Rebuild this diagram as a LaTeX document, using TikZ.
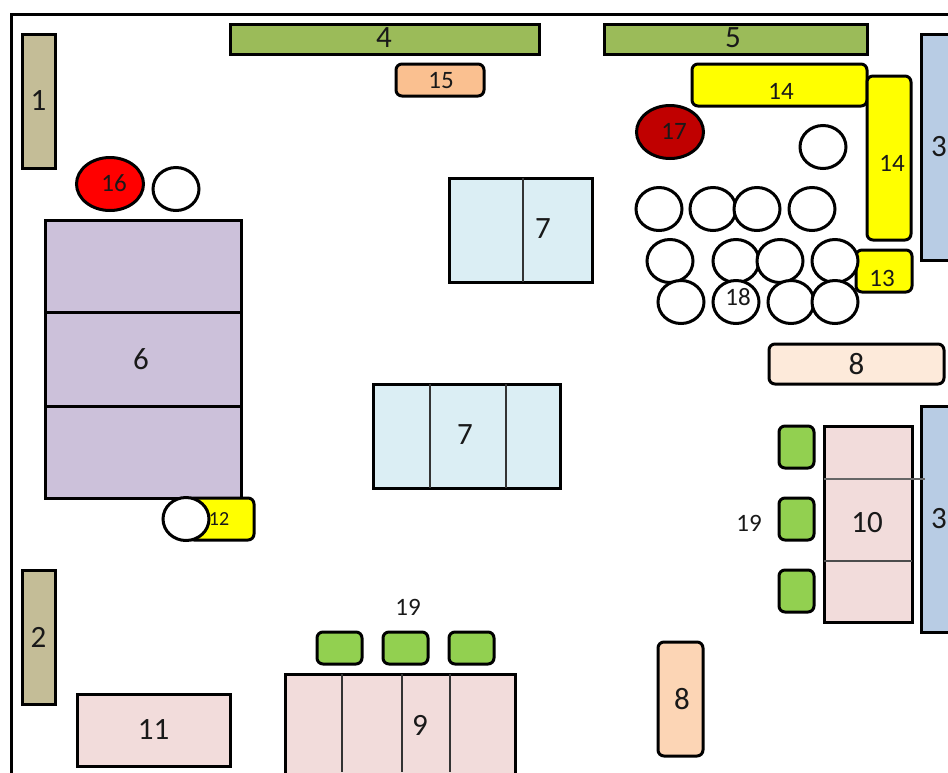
\documentclass[tikz,border=0pt]{standalone}
\usepackage{fontspec}
\setmainfont{Carlito}
\usetikzlibrary{shapes}
\definecolor{khaki}{HTML}{C4BD97}
\definecolor{leaf}{HTML}{9BBB59}
\definecolor{steel}{HTML}{B8CCE4}
\definecolor{lilac}{HTML}{CCC1DA}
\definecolor{ice}{HTML}{DBEEF4}
\definecolor{blush}{HTML}{F2DCDB}
\definecolor{cream}{HTML}{FDEADA}
\definecolor{peach}{HTML}{FCD5B5}
\definecolor{apricot}{HTML}{FAC090}
\definecolor{lime}{HTML}{92D050}
\definecolor{darkred}{HTML}{C00000}
\definecolor{lemon}{HTML}{FFFF00}
\definecolor{brightred}{HTML}{FF0000}
\begin{document}
\begin{tikzpicture}[x=1pt,y=-1pt,
      every node/.style={inner sep=0pt,outer sep=0pt,text=black!90,font=\fontsize{31}{31}\selectfont},
      box/.style={rectangle,draw=black,line width=3pt},
      rbox/.style={box,rounded corners=6pt},
      seat/.style={ellipse,draw=black,line width=3pt,fill=white,minimum width=46pt,minimum height=43pt},
      blob/.style={ellipse,draw=black,line width=3pt,minimum width=67pt,minimum height=53pt},
      chair/.style={rbox,fill=lime},
      tag/.style={font=\fontsize{25}{25}\selectfont},
      divider/.style={line width=1.8pt,draw=black!80}]
    \useasboundingbox (0,0) rectangle (948,772);
    \clip (0,0) rectangle (948,772);
    % outer wall
    \draw[line width=3pt] (11,800) -- (11,14) -- (1000,14);

    % along the walls
    \node[box,fill=khaki,minimum width=33pt,minimum height=134pt] (one) at (38.5,101) {1};
    \node[box,fill=khaki,minimum width=33pt,minimum height=134pt] (two) at (38.5,637) {2};
    \node[box,fill=steel,minimum width=60pt,minimum height=226pt,anchor=north west] (threea) at (921,34) {};
    \node[box,fill=steel,minimum width=60pt,minimum height=226pt,anchor=north west] (threeb) at (921,406) {};
    \node (threealabel) at (939,147) {3};
    \node (threeblabel) at (939,519) {3};
    \node[box,fill=leaf,minimum width=309pt,minimum height=30pt] (four) at (384.5,39) {};
    \node (fourlabel) at (384,38) {4};
    \node[box,fill=leaf,minimum width=263pt,minimum height=30pt] (five) at (735.5,39) {};
    \node (fivelabel) at (733,38) {5};

    % big tables
    \node[box,fill=lilac,minimum width=196pt,minimum height=278pt] (six) at (143,359) {};
    \node (sixlabel) at (141,359) {6};
    \draw[line width=3pt] (six.west |- 0,312) -- (six.east |- 0,312);
    \draw[line width=3pt] (six.west |- 0,406) -- (six.east |- 0,406);
    \node[box,fill=ice,minimum width=143pt,minimum height=104pt] (sevena) at (520.5,230) {};
    \node (sevenalabel) at (543,229) {7};
    \draw[divider] (523,0 |- sevena.north) -- (523,0 |- sevena.south);
    \node[box,fill=ice,minimum width=187pt,minimum height=104pt] (sevenb) at (466.5,436) {};
    \node (sevenblabel) at (465,435) {7};
    \draw[divider] (430,0 |- sevenb.north) -- (430,0 |- sevenb.south);
    \draw[divider] (506,0 |- sevenb.north) -- (506,0 |- sevenb.south);
    \node[rbox,fill=cream,minimum width=175pt,minimum height=40pt] (eighta) at (856.5,364) {8};
    \node[rbox,fill=peach,minimum width=45pt,minimum height=114pt] (eightb) at (680.5,699) {};
    \node (eightblabel) at (682,699) {8};
    \node[box,fill=blush,minimum width=230pt,minimum height=150pt,anchor=north west] (nine) at (285,674) {};
    \node (ninelabel) at (420,725) {9};
    \draw[divider] (342,674) -- (342,772);
    \draw[divider] (402,674) -- (402,772);
    \draw[divider] (450,674) -- (450,772);
    \node[box,fill=blush,minimum width=88pt,minimum height=196pt] (ten) at (868,524) {};
    \node (tenlabel) at (867,523) {10};
    \draw[divider,draw=black!60] (ten.west |- 0,479) -- (925,479);
    \draw[divider,draw=black!70] (ten.west |- 0,561) -- (ten.east |- 0,561);
    \node[box,fill=blush,minimum width=153pt,minimum height=72pt] (eleven) at (153.5,730) {11};

    % small items
    \node[rbox,fill=lemon,minimum width=66pt,minimum height=42pt] (twelve) at (221,519) {};
    \node[seat] (seatl) at (186,519) {};
    \node[tag,font=\fontsize{20}{20}\selectfont] (twelvelabel) at (219,519) {12};
    \node[rbox,fill=lemon,minimum width=56pt,minimum height=42pt] (thirteen) at (884,271) {};
    \node[tag] (thirteenlabel) at (882,278) {13};
    \node[rbox,fill=lemon,minimum width=175pt,minimum height=42pt] (fourteena) at (779.5,85) {};
    \node[tag] (fourteenalabel) at (781,91) {14};
    \node[rbox,fill=lemon,minimum width=44pt,minimum height=164pt] (fourteenb) at (889,158) {};
    \node[tag] (fourteenblabel) at (892,163) {14};
    \node[rbox,fill=apricot,minimum width=88pt,minimum height=32pt] (fifteen) at (440,80) {};
    \node[tag] (fifteenlabel) at (441,81) {15};
    \node[blob,fill=brightred] (sixteen) at (110,184) {};
    \node[tag] (sixteenlabel) at (114,183) {16};
    \node[blob,fill=darkred] (seventeen) at (670,132) {};
    \node[tag] (seventeenlabel) at (674,131) {17};

    % seats
    \node[seat] (seata) at (176,189) {};
    \node[seat] (seatb) at (823,147) {};
    \node[seat] (seatc) at (659,209) {};
    \node[seat] (seatd) at (713,209) {};
    \node[seat] (seate) at (757,209) {};
    \node[seat] (seatf) at (812,209) {};
    \node[seat] (seatg) at (670,261) {};
    \node[seat] (seath) at (736,261) {};
    \node[seat] (seati) at (780,261) {};
    \node[seat] (seatj) at (835,261) {};
    \node[seat] (seatk) at (681,302) {};
    \node[seat] (seatm) at (736,302) {};
    \node[seat] (seatn) at (791,302) {};
    \node[seat] (seato) at (835,302) {};
    \node[tag] (eighteen) at (738,297) {18};

    % green stools
    \node[chair,minimum width=35pt,minimum height=42pt] (stoola) at (796.5,447) {};
    \node[chair,minimum width=35pt,minimum height=42pt] (stoolb) at (796.5,519) {};
    \node[chair,minimum width=35pt,minimum height=42pt] (stoolc) at (796.5,591) {};
    \node[chair,minimum width=45pt,minimum height=32pt] (stoold) at (339.5,648) {};
    \node[chair,minimum width=45pt,minimum height=32pt] (stoole) at (405.5,648) {};
    \node[chair,minimum width=45pt,minimum height=32pt] (stoolf) at (471.5,648) {};
    \node[tag] (nineteena) at (749,523) {19};
    \node[tag] (nineteenb) at (408,607) {19};
\end{tikzpicture}
\end{document}
